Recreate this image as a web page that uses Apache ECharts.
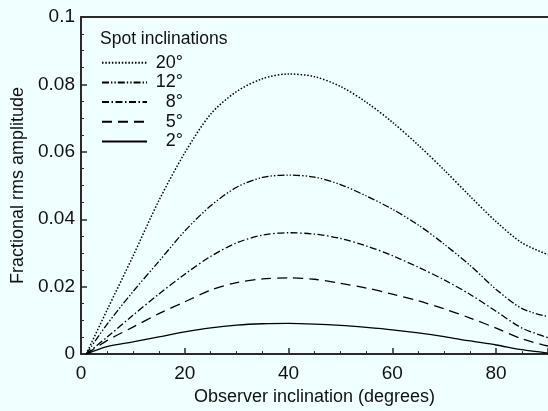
<!DOCTYPE html>
<html>
<head>
<meta charset="utf-8">
<title>Spot inclinations</title>
<style>
    html, body { margin: 0; height: 100%; background: #f0ffff; }
    #chart { width: 548px; height: 411px; }
</style>
</head>
<body>
<div id="chart"></div>
<script src="https://cdn.jsdelivr.net/npm/echarts@6/dist/echarts.min.js"></script>
<script>
// observer inclination (degrees)
const inclination = [1, 5, 10, 15, 20, 25, 30, 35, 40, 45, 50, 55, 60, 65, 70, 75, 80, 85, 90];

// fractional rms amplitude, one array per spot inclination
const spot20 = [0, 0.013, 0.029, 0.0455, 0.0597, 0.0712, 0.0779, 0.0817, 0.0831, 0.0823, 0.0794, 0.0747, 0.0688, 0.0620, 0.0546, 0.0468, 0.0393, 0.0330, 0.0295];
const spot12 = [0, 0.0088, 0.0185, 0.0275, 0.0365, 0.0440, 0.0495, 0.0524, 0.0531, 0.0525, 0.0503, 0.0469, 0.0430, 0.0383, 0.0326, 0.0263, 0.0192, 0.0135, 0.0111];
const spot8  = [0, 0.005, 0.0115, 0.0178, 0.0237, 0.0290, 0.0330, 0.0353, 0.0360, 0.0356, 0.0343, 0.0321, 0.0292, 0.0258, 0.0220, 0.0177, 0.0127, 0.0077, 0.0049];
const spot5  = [0, 0.004, 0.0080, 0.0120, 0.0155, 0.0190, 0.0212, 0.0223, 0.0226, 0.0222, 0.0210, 0.0196, 0.0178, 0.0158, 0.0134, 0.0107, 0.0077, 0.0045, 0.0024];
const spot2  = [0, 0.0022, 0.0036, 0.0051, 0.0066, 0.0078, 0.0086, 0.0090, 0.0091, 0.0089, 0.0085, 0.0079, 0.0072, 0.0063, 0.0052, 0.0039, 0.0027, 0.0013, 0.0003];

const spotNames = ['20°', '12°', '8°', '5°', '2°'];
const FONT = '"Liberation Sans", Arial, Helvetica, sans-serif';

function pairs(ys) {
    return inclination.map((x, i) => [x, ys[i]]);
}

// dash pattern per curve
const dashes = [
    [1.5, 1.8],             // dotted
    [7, 2, 1.4, 2, 1.4, 2], // dash-dot-dot
    [7, 2.5, 1.5, 2.5],     // dash-dot
    [10, 6],                // dashed
    'solid'
];
const curves = [spot20, spot12, spot8, spot5, spot2];

const chart = echarts.init(document.getElementById('chart'));

const axisLine = { show: true, lineStyle: { color: '#2a2a2a', width: 2 } };

chart.setOption({
    animation: false,
    backgroundColor: '#f0ffff',
    textStyle: { fontFamily: FONT },
    title: {
        text: 'Spot inclinations',
        left: 100,
        top: 30,
        padding: 0,
        textStyle: { fontFamily: FONT, fontSize: 17.5, fontWeight: 'normal', color: '#111' }
    },
    legend: {
        orient: 'vertical',
        left: 101,
        top: 53.7,
        padding: 0,
        itemWidth: 45,
        itemHeight: 12,
        itemGap: 1.7,
        selectedMode: false,
        data: spotNames,
        itemStyle: { color: 'rgba(0,0,0,0)', borderWidth: 0, opacity: 0 },
        formatter: name => '{r|' + name + '}',
        textStyle: {
            fontFamily: FONT,
            fontSize: 18,
            color: '#111',
            lineHeight: 16,
            rich: { r: { width: 31, align: 'right', fontSize: 18, fontFamily: FONT, color: '#111' } }
        }
    },
    grid: { left: 81, right: 0, top: 17, bottom: 49 },
    xAxis: [
        {
            type: 'value',
            min: 0,
            max: 90,
            interval: 20,
            name: 'Observer inclination (degrees)',
            nameLocation: 'middle',
            nameGap: 27,
            nameTextStyle: { fontFamily: FONT, fontSize: 18, color: '#111' },
            axisLine: axisLine,
            axisTick: { show: true, inside: true, length: 6, lineStyle: { color: '#2a2a2a', width: 1.5 } },
            minorTick: { show: true, splitNumber: 4, length: 3, lineStyle: { color: '#2a2a2a', width: 1 } },
            axisLabel: { fontFamily: FONT, fontSize: 19, color: '#111', margin: 10, showMaxLabel: false },
            splitLine: { show: false }
        },
        {
            type: 'value',
            position: 'top',
            min: 0,
            max: 90,
            axisLine: axisLine,
            axisTick: { show: false },
            axisLabel: { show: false },
            splitLine: { show: false }
        }
    ],
    yAxis: {
        type: 'value',
        min: 0,
        max: 0.1,
        interval: 0.02,
        name: 'Fractional rms amplitude',
        nameLocation: 'middle',
        nameGap: 52,
        nameTextStyle: { fontFamily: FONT, fontSize: 18, color: '#111' },
        axisLine: axisLine,
        axisTick: { show: true, inside: true, length: 6, lineStyle: { color: '#2a2a2a', width: 1.5 } },
        minorTick: { show: true, splitNumber: 4, length: 3, lineStyle: { color: '#2a2a2a', width: 1 } },
        axisLabel: { fontFamily: FONT, fontSize: 19, color: '#111', margin: 6 },
        splitLine: { show: false }
    },
    series: curves.map((ys, i) => ({
        name: spotNames[i],
        type: 'line',
        data: pairs(ys),
        smooth: 0.3,
        symbol: 'none',
        itemStyle: { color: 'rgba(0,0,0,0)' },
        lineStyle: { color: '#000', width: i === 0 ? 1.5 : 1.3, type: dashes[i] }
    }))
});
</script>
</body>
</html>
